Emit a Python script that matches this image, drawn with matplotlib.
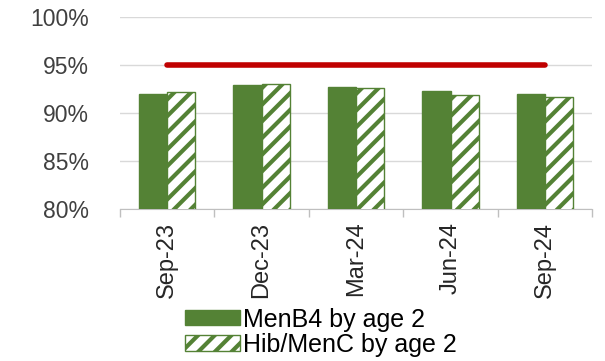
import matplotlib.pyplot as plt
import numpy as np
from matplotlib.patches import Patch

plt.rcParams['font.family'] = ['Liberation Sans', 'DejaVu Sans']
plt.rcParams['hatch.linewidth'] = 3.0
plt.rcParams['hatch.color'] = '#548235'

quarters = ['Sep-23', 'Dec-23', 'Mar-24', 'Jun-24', 'Sep-24']
menb4 = [92.0, 92.9, 92.7, 92.3, 92.0]
hib_menc = [92.2, 93.05, 92.6, 91.9, 91.7]
target = 95

green = '#548235'
x = np.arange(len(quarters))
w = 0.3

fig = plt.figure(figsize=(6.05, 3.61), dpi=100)
ax = fig.add_axes([0.198, 0.421, 0.781, 0.532])

ax.bar(x - w / 2, menb4, w, color=green, edgecolor=green, linewidth=1, zorder=3)
ax.bar(x + w / 2, hib_menc, w, color='white', edgecolor=green, hatch='//', linewidth=1, zorder=3)
ax.plot(x, [target] * len(x), color='#c00000', linewidth=4, solid_capstyle='round', zorder=4)

ax.set_ylim(80, 100)
ax.set_xlim(-0.5, len(x) - 0.5)
ax.set_yticks(range(80, 101, 5))
ax.set_yticklabels([f'{v}%' for v in range(80, 101, 5)], fontsize=16.5, color='#404040')
ax.yaxis.grid(True, color='#d9d9d9', linewidth=1, zorder=0)
ax.tick_params(axis='y', length=0, pad=22)

ax.set_xticks(x)
ax.set_xticklabels(quarters, rotation=90, fontsize=17, color='#262626')
ax.tick_params(axis='x', length=0, pad=9)
ax.set_xticks(np.arange(-0.5, len(x)), minor=True)
ax.tick_params(axis='x', which='minor', length=6, color='#bfbfbf', width=1)

for s in ['left', 'right', 'top']:
    ax.spines[s].set_visible(False)
ax.spines['bottom'].set_color('#bfbfbf')

handles = [Patch(facecolor=green, edgecolor=green),
           Patch(facecolor='white', edgecolor=green, hatch='//')]
fig.legend(handles, ['MenB4 by age 2', 'Hib/MenC by age 2'], loc='upper left',
           bbox_to_anchor=(0.305, 0.148), frameon=False, fontsize=18,
           handlelength=2.2, handleheight=0.55, handletextpad=0.15,
           labelspacing=0.05, borderpad=0, borderaxespad=0)

fig.savefig('out.png', dpi=100)
